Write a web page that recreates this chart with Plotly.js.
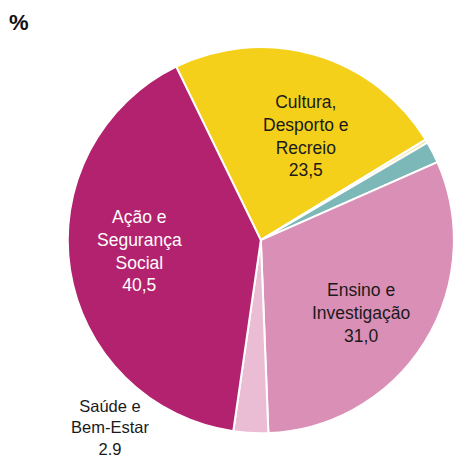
<!DOCTYPE html>
<html><head><meta charset="utf-8">
<script src="https://cdn.plot.ly/plotly-3.0.1.min.js"></script>
<style>html,body{margin:0;padding:0;background:#fff}#chart{width:454px;height:457px}</style>
</head><body><div id="chart"></div>
<script>
const categories = ["Cultura, Desporto e Recreio", "Outros A", "Outros B", "Ensino e Investigação", "Saúde e Bem-Estar", "Ação e Segurança Social"];
const values = [23.5, 0.3, 1.8, 31.0, 2.9, 40.5];
const labelTexts = ["Cultura,<br>Desporto e<br>Recreio<br>23,5", "", "", "Ensino e<br>Investigação<br>31,0", "Saúde e<br>Bem-Estar<br>2.9", "Ação e<br>Segurança<br>Social<br>40,5"];
const colors = ["#F5D01A", "#F7E6A2", "#7DB8B8", "#DA8FB6", "#EABDD5", "#B3226E"];
const textColors = ["#1a1a1a", "#1a1a1a", "#1a1a1a", "#1a1a1a", "#1a1a1a", "#ffffff"];
const FONT = "Liberation Sans, Arial, sans-serif";

// label placement (paper coordinates) for each category; empty for unlabeled slices
const labelPos = [[0.673, 0.702], null, null, [0.795, 0.315], [0.242, 0.064], [0.307, 0.451]];
const labelSize = [17.5, 0, 0, 17.5, 16.5, 17.5];

const trace = {
  type: "pie",
  labels: categories,
  values: values,
  textinfo: "none",
  sort: false,
  direction: "clockwise",
  rotation: -26,
  marker: { colors: colors, line: { color: "#ffffff", width: 2 } },
  hoverinfo: "label+value",
  showlegend: false,
  domain: { x: [0.149, 1.0], y: [0.052, 0.897] }
};

const annotations = [
  { text: "<b>%</b>", xref: "paper", yref: "paper", x: 0.016, y: 0.951, xanchor: "left", yanchor: "middle", showarrow: false,
    font: { family: FONT, size: 22, color: "#111" } }
];
labelTexts.forEach((t, i) => {
  if (!t || !labelPos[i]) return;
  annotations.push({
    text: t, xref: "paper", yref: "paper", x: labelPos[i][0], y: labelPos[i][1],
    xanchor: "center", yanchor: "middle", align: "center", showarrow: false,
    font: { family: FONT, size: labelSize[i], color: textColors[i] }
  });
});

const layout = {
  width: 454, height: 457,
  margin: { l: 0, r: 0, t: 0, b: 0 },
  paper_bgcolor: "#ffffff",
  showlegend: false,
  annotations: annotations
};

Plotly.newPlot("chart", [trace], layout, { displayModeBar: false, staticPlot: true });
</script>
</body></html>
